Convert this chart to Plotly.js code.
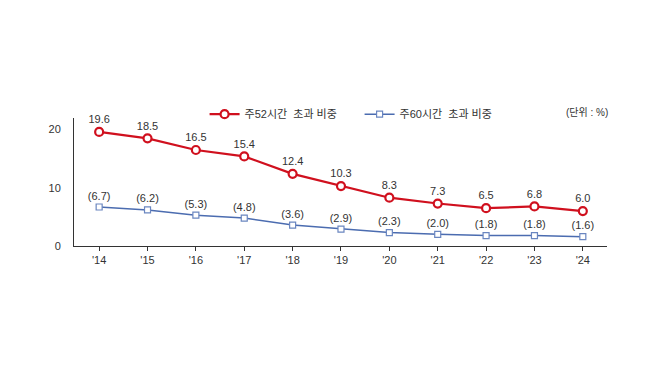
<!DOCTYPE html>
<html><head><meta charset="utf-8">
<script src="https://cdn.plot.ly/plotly-3.0.1.min.js"></script>
<style>html,body{margin:0;padding:0;background:#fff;}#chart{width:658px;height:369px;}</style>
</head><body><div id="chart"></div>
<script>
const years = ["'14","'15","'16","'17","'18","'19","'20","'21","'22","'23","'24"];
const over52 = [19.6,18.5,16.5,15.4,12.4,10.3,8.3,7.3,6.5,6.8,6.0];
const over60 = [6.7,6.2,5.3,4.8,3.6,2.9,2.3,2.0,1.8,1.8,1.6];
const name52 = "주52시간  초과 비중";
const name60 = "주60시간  초과 비중";
const unitLabel = "(단위 : %)";

const FONT = "Liberation Sans, Arial, Noto Sans CJK KR, sans-serif";
const xIdx = years.map((_, i) => i);

const traces = [
  {
    x: xIdx, y: over52, name: name52, type: "scatter", mode: "lines+markers+text",
    text: over52.map(v => v.toFixed(1)), textposition: "top center",
    textfont: {family: FONT, size: 11, color: "#333"},
    line: {color: "#d0101e", width: 2.2},
    marker: {symbol: "circle", size: 8, color: "#fff", line: {color: "#d0101e", width: 2.2}},
    cliponaxis: false
  },
  {
    x: xIdx, y: over60, name: name60, type: "scatter", mode: "lines+markers+text",
    text: over60.map(v => "(" + v.toFixed(1) + ")"), textposition: "top center",
    textfont: {family: FONT, size: 11, color: "#333"},
    line: {color: "#4b6cb0", width: 1.5},
    marker: {symbol: "square", size: 6, color: "#fff", line: {color: "#6a86c0", width: 1.2}},
    cliponaxis: false
  }
];

const layout = {
  width: 658, height: 369,
  margin: {l: 74, r: 51, t: 118, b: 123},
  paper_bgcolor: "#fff", plot_bgcolor: "#fff",
  font: {family: FONT, size: 11, color: "#333"},
  showlegend: true,
  legend: {orientation: "h", x: 0.245, y: 1.03, xanchor: "left", yanchor: "middle",
           font: {family: FONT, size: 11, color: "#333"},
           entrywidth: 110, entrywidthmode: "pixels", tracegroupgap: 0},
  xaxis: {
    range: [-0.52, 10.5], tickmode: "array", tickvals: xIdx, ticktext: years,
    showgrid: false, zeroline: false, showline: true, linecolor: "#333", linewidth: 1,
    ticks: "outside", ticklen: 4, tickcolor: "#333", tickfont: {family: FONT, size: 11, color: "#333"},
    fixedrange: true
  },
  yaxis: {
    range: [0, 22], tickvals: [0, 10, 20], showgrid: false, zeroline: false,
    showline: true, linecolor: "#333", linewidth: 1, ticks: "", ticklabelstandoff: 10,
    tickfont: {family: FONT, size: 11, color: "#333"}, fixedrange: true
  },
  annotations: [
    {text: unitLabel, xref: "paper", yref: "paper", x: 1.005, y: 1.05, xanchor: "right", yanchor: "middle",
     showarrow: false, font: {family: FONT, size: 10, color: "#333"}}
  ]
};

Plotly.newPlot("chart", traces, layout, {displayModeBar: false, staticPlot: true});
</script></body></html>
